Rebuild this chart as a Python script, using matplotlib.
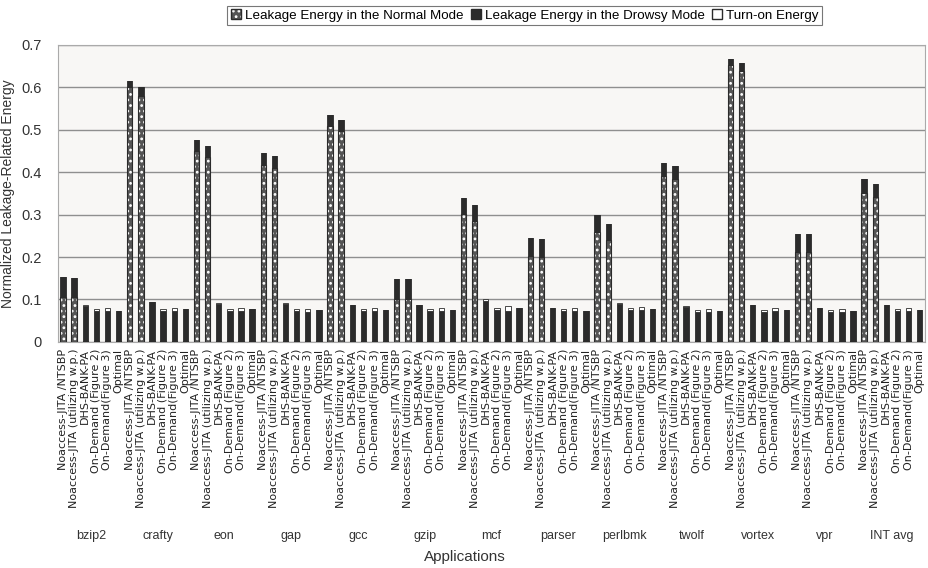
import numpy as np
import matplotlib
matplotlib.use("Agg")
import matplotlib.pyplot as plt
from matplotlib.patches import Patch

plt.rcParams['font.family'] = ['Liberation Sans', 'DejaVu Sans']
plt.rcParams['hatch.linewidth'] = 1.2

apps = ['bzip2', 'crafty', 'eon', 'gap', 'gcc', 'gzip', 'mcf', 'parser',
        'perlbmk', 'twolf', 'vortex', 'vpr', 'INT avg']
schemes = ['Noaccess-JITA /NTSBP', 'Noaccess-JITA (utilizing w.p.)', 'DHS-BANK-PA',
           'On-Demand (Figure 2)', 'On-Demand(Figure 3)', 'Optimal']

# per application: values for the 6 schemes
normal_mode = [
    [0.107, 0.107, 0.003, 0.002, 0.002, 0.002],
    [0.600, 0.580, 0.003, 0.002, 0.002, 0.002],
    [0.450, 0.436, 0.003, 0.002, 0.002, 0.002],
    [0.416, 0.409, 0.003, 0.002, 0.002, 0.002],
    [0.509, 0.497, 0.003, 0.002, 0.002, 0.002],
    [0.100, 0.100, 0.003, 0.002, 0.002, 0.002],
    [0.302, 0.286, 0.003, 0.002, 0.002, 0.002],
    [0.203, 0.201, 0.003, 0.002, 0.002, 0.002],
    [0.258, 0.241, 0.003, 0.002, 0.002, 0.002],
    [0.391, 0.384, 0.003, 0.002, 0.002, 0.002],
    [0.653, 0.639, 0.003, 0.002, 0.002, 0.002],
    [0.213, 0.213, 0.003, 0.002, 0.002, 0.002],
    [0.350, 0.341, 0.003, 0.002, 0.002, 0.002],
]
drowsy_mode = [
    [0.047, 0.044, 0.082, 0.071, 0.072, 0.071],
    [0.016, 0.021, 0.091, 0.071, 0.072, 0.075],
    [0.026, 0.026, 0.087, 0.072, 0.072, 0.075],
    [0.030, 0.028, 0.087, 0.071, 0.069, 0.073],
    [0.025, 0.025, 0.083, 0.071, 0.072, 0.073],
    [0.048, 0.048, 0.084, 0.072, 0.072, 0.073],
    [0.037, 0.036, 0.093, 0.073, 0.071, 0.077],
    [0.042, 0.041, 0.077, 0.071, 0.071, 0.071],
    [0.040, 0.038, 0.087, 0.073, 0.074, 0.075],
    [0.030, 0.030, 0.080, 0.069, 0.069, 0.071],
    [0.014, 0.018, 0.084, 0.069, 0.071, 0.073],
    [0.041, 0.041, 0.077, 0.069, 0.068, 0.071],
    [0.033, 0.032, 0.084, 0.071, 0.072, 0.073],
]
turn_on = [
    [0.0, 0.0, 0.001, 0.004, 0.007, 0.0],
    [0.0, 0.0, 0.001, 0.004, 0.007, 0.0],
    [0.0, 0.0, 0.001, 0.004, 0.007, 0.0],
    [0.0, 0.0, 0.001, 0.004, 0.007, 0.0],
    [0.0, 0.0, 0.001, 0.004, 0.007, 0.0],
    [0.0, 0.0, 0.001, 0.004, 0.007, 0.0],
    [0.0, 0.0, 0.004, 0.004, 0.012, 0.0],
    [0.0, 0.0, 0.001, 0.004, 0.007, 0.0],
    [0.0, 0.0, 0.001, 0.004, 0.007, 0.0],
    [0.0, 0.0, 0.001, 0.004, 0.007, 0.0],
    [0.0, 0.0, 0.001, 0.004, 0.007, 0.0],
    [0.0, 0.0, 0.001, 0.004, 0.007, 0.0],
    [0.0, 0.0, 0.001, 0.004, 0.007, 0.0],
]

normal = np.array(normal_mode).ravel()
drowsy = np.array(drowsy_mode).ravel()
turnon = np.array(turn_on).ravel()
x = np.arange(len(normal))
w = 0.48
dark = '#2b2b2b'

fig = plt.figure(figsize=(9.29, 5.68), dpi=100)
ax = fig.add_axes([0.0624, 0.398, 0.933, 0.523])
ax.set_facecolor('#f8f7f5')

# normal mode: dark bar with white dots, then outline
ax.bar(x, normal, w, color='#555555', edgecolor='white', hatch='...', lw=0, zorder=3)
ax.bar(x, normal, w, color='none', edgecolor=dark, lw=0.8, zorder=3)
ax.bar(x, drowsy, w, bottom=normal, color=dark, edgecolor=dark, lw=0.6, zorder=3)
ax.bar(x, turnon, w, bottom=normal + drowsy, color='white', edgecolor=dark, lw=0.6, zorder=3)

ax.set_xlim(-0.45, len(x) - 0.55)
ax.set_ylim(0, 0.7)
ax.set_yticks(np.arange(0, 0.71, 0.1))
ax.set_yticklabels(['0'] + ['%.1f' % v for v in np.arange(0.1, 0.71, 0.1)], fontsize=10.5, color='#333333')
ax.yaxis.grid(True, color='#8f8f8f', lw=1.0, zorder=0)
ax.tick_params(axis='y', length=0, pad=12)
ax.tick_params(axis='x', length=0, pad=5)
ax.set_xticks(x)
ax.set_xticklabels(schemes * len(apps), rotation=90, fontsize=8, color='#222222',
                   family='DejaVu Sans')
for s in ax.spines.values():
    s.set_color('#aaaaaa')
ax.set_ylabel('Normalized Leakage-Related Energy', fontsize=10, color='#333333', labelpad=4)

n = len(schemes)
for i, a in enumerate(apps):
    ax.text(i * n + (n - 1) / 2, -0.653, a, transform=ax.get_xaxis_transform(),
            ha='center', va='center', fontsize=9, color='#333333')
fig.text(0.5, 0.019, 'Applications', ha='center', va='center', fontsize=11, color='#333333')

handles = [(Patch(facecolor='#555555', edgecolor='white', hatch='...', lw=0),
            Patch(facecolor='none', edgecolor=dark)),
           Patch(facecolor=dark, edgecolor=dark),
           Patch(facecolor='white', edgecolor=dark)]
labels = ['Leakage Energy in the Normal Mode', 'Leakage Energy in the Drowsy Mode', 'Turn-on Energy']
leg = fig.legend(handles, labels, loc='center', bbox_to_anchor=(0.565, 0.973), ncol=3,
                 fontsize=9.6, frameon=True, fancybox=False, edgecolor='#555555',
                 handlelength=0.8, handleheight=0.8, handletextpad=0.3, columnspacing=0.5,
                 borderpad=0.25, borderaxespad=0)
leg.get_frame().set_linewidth(0.8)

fig.savefig('out.png', dpi=100)
